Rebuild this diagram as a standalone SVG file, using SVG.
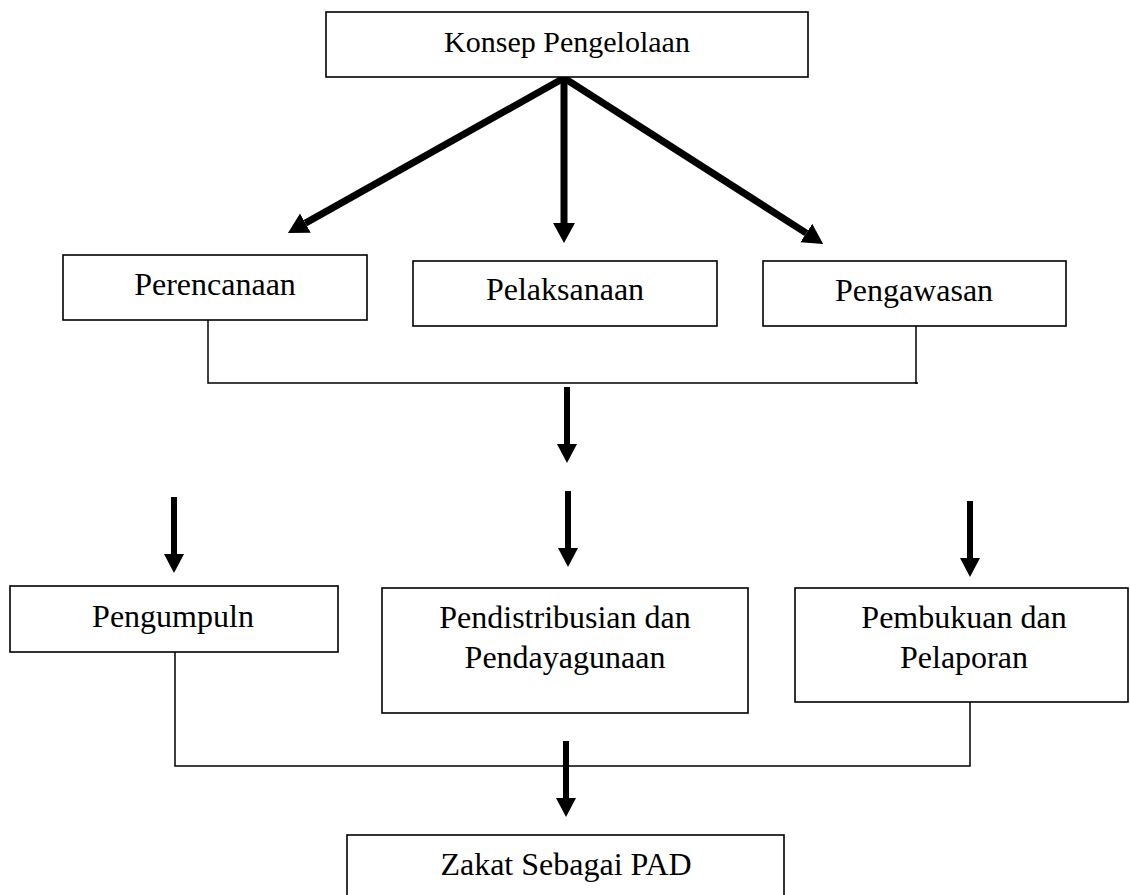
<svg xmlns="http://www.w3.org/2000/svg" width="1130" height="895" viewBox="0 0 1130 895">
<style>
.box{fill:#fff;stroke:#000;stroke-width:1.6}
.t{font-family:"Liberation Serif","Times New Roman",serif;font-size:32px;fill:#000;text-anchor:middle}
.link{fill:none;stroke:#000;stroke-width:1.5}
.big{stroke:#000;stroke-width:7;fill:none}
.small{stroke:#000;stroke-width:6;fill:none}
</style>
<defs>
<marker id="hb" markerUnits="userSpaceOnUse" markerWidth="22" markerHeight="24" refX="0" refY="11" orient="auto" viewBox="0 0 22 22">
<path d="M0,0 L20,11 L0,22 z" fill="#000"/>
</marker>
<marker id="hs" markerUnits="userSpaceOnUse" markerWidth="20" markerHeight="22" refX="0" refY="10" orient="auto" viewBox="0 0 20 20">
<path d="M0,0 L19,10 L0,20 z" fill="#000"/>
</marker>
</defs>
<rect width="1130" height="895" fill="#fff"/>
<g id="connectors">
<line class="big" x1="564" y1="78" x2="305.4" y2="223.1" marker-end="url(#hb)"/>
<line class="big" x1="564" y1="76" x2="564" y2="223" marker-end="url(#hb)"/>
<line class="big" x1="564" y1="78" x2="806.3" y2="233.1" marker-end="url(#hb)"/>
<polyline class="link" points="208,320 208,383 918,383"/>
<line class="link" x1="916" y1="325" x2="916" y2="384"/>
<line class="small" x1="567" y1="387" x2="567" y2="444" marker-end="url(#hs)"/>
<line class="small" x1="174" y1="497" x2="174" y2="554" marker-end="url(#hs)"/>
<line class="small" x1="568" y1="491" x2="568" y2="548" marker-end="url(#hs)"/>
<line class="small" x1="970" y1="501" x2="970" y2="558" marker-end="url(#hs)"/>
<polyline class="link" points="175,652 175,766 970,766 970,702"/>
<line class="small" x1="566" y1="741" x2="566" y2="798" marker-end="url(#hs)"/>
</g>
<g id="konsep">
<rect class="box" x="326" y="12" width="482" height="65"/>
<text class="t" x="567" y="52" style="font-size:30px">Konsep Pengelolaan</text>
</g>
<g id="perencanaan">
<rect class="box" x="63" y="255" width="304" height="65"/>
<text class="t" x="215" y="295">Perencanaan</text>
</g>
<g id="pelaksanaan">
<rect class="box" x="413" y="261" width="304" height="65"/>
<text class="t" x="565" y="300">Pelaksanaan</text>
</g>
<g id="pengawasan">
<rect class="box" x="763" y="261" width="303" height="65"/>
<text class="t" x="914" y="301">Pengawasan</text>
</g>
<g id="pengumpuln">
<rect class="box" x="10" y="586" width="328" height="66"/>
<text class="t" x="173" y="627">Pengumpuln</text>
</g>
<g id="pendistribusian">
<rect class="box" x="382" y="588" width="366" height="125"/>
<text class="t" x="565" y="628">Pendistribusian dan</text>
<text class="t" x="565" y="668">Pendayagunaan</text>
</g>
<g id="pembukuan">
<rect class="box" x="795" y="588" width="333" height="114"/>
<text class="t" x="964" y="628">Pembukuan dan</text>
<text class="t" x="964" y="668">Pelaporan</text>
</g>
<g id="zakat">
<rect class="box" x="347" y="835" width="437" height="80"/>
<text class="t" x="566" y="875">Zakat Sebagai PAD</text>
</g>
</svg>
